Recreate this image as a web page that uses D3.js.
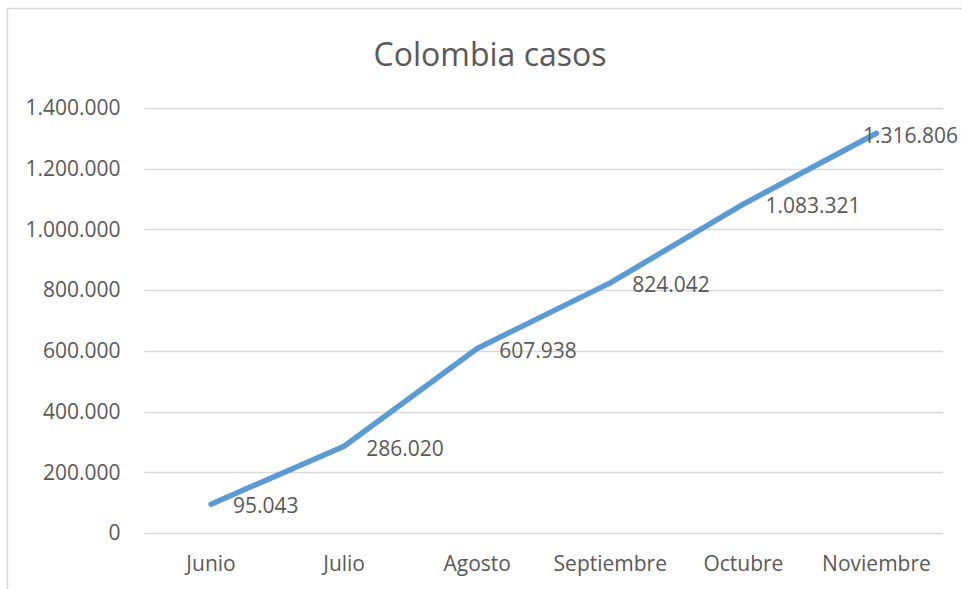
<!DOCTYPE html>
<html><head><meta charset="utf-8">
<script src="https://cdn.jsdelivr.net/npm/d3@7"></script>
<style>body{margin:0;background:#fff;overflow:hidden}</style>
</head><body><svg id="c" width="962" height="589"></svg>
<script>
const months = ["Junio","Julio","Agosto","Septiembre","Octubre","Noviembre"];
const cases = [95043, 286020, 607938, 824042, 1083321, 1316806];
const yTicks = [0,200000,400000,600000,800000,1000000,1200000,1400000];
const title = "Colombia casos";

const fmt = v => d3.format(",")(v).replace(/,/g, ".");
const svg = d3.select("#c");
const font = "'Open Sans', sans-serif";
const textCol = "#595959";

svg.append("rect").attr("x",7.5).attr("y",8.5).attr("width",980).attr("height",600)
  .attr("fill","#fff").attr("stroke","#d9d9d9").attr("stroke-width",1.5);

const x = d3.scaleBand().domain(months).range([144.5, 943]);
const y = d3.scaleLinear().domain([0,1400000]).range([533, 108]);

svg.append("text").attr("x",490).attr("y",66).attr("text-anchor","middle")
  .attr("font-family",font).attr("font-size",32).attr("fill",textCol).text(title);

svg.append("g").selectAll("line").data(yTicks).join("line")
  .attr("x1",x.range()[0]).attr("x2",x.range()[1])
  .attr("y1",d=>Math.round(y(d))+0.5).attr("y2",d=>Math.round(y(d))+0.5)
  .attr("stroke","#d9d9d9").attr("stroke-width",1.3);

const yAxis = svg.append("g").attr("transform","translate(144.5,0)")
  .call(d3.axisLeft(y).tickValues(yTicks).tickFormat(fmt).tickSize(0).tickPadding(24));
yAxis.select(".domain").remove();
yAxis.selectAll("text").attr("font-family",font).attr("font-size",21).attr("fill",textCol);

const xAxis = svg.append("g").attr("transform","translate(0,533)")
  .call(d3.axisBottom(x).tickSize(0).tickPadding(23));
xAxis.select(".domain").remove();
xAxis.selectAll("text").attr("font-family",font).attr("font-size",21).attr("fill",textCol);

const line = d3.line().x((d,i)=>x(months[i])+x.bandwidth()/2).y(d=>y(d));
svg.append("path").datum(cases).attr("d",line).attr("fill","none")
  .attr("stroke","#5b9bd5").attr("stroke-width",5.5).attr("stroke-linecap","round").attr("stroke-linejoin","round");

svg.append("g").selectAll("text").data(cases).join("text")
  .attr("x",(d,i)=> i===cases.length-1 ? 958 : x(months[i])+x.bandwidth()/2+22)
  .attr("text-anchor",(d,i)=> i===cases.length-1 ? "end" : "start")
  .attr("y",d=>y(d)+2).attr("dy","0.35em")
  .attr("font-family",font).attr("font-size",21).attr("fill",textCol).text(fmt);
</script></body></html>
